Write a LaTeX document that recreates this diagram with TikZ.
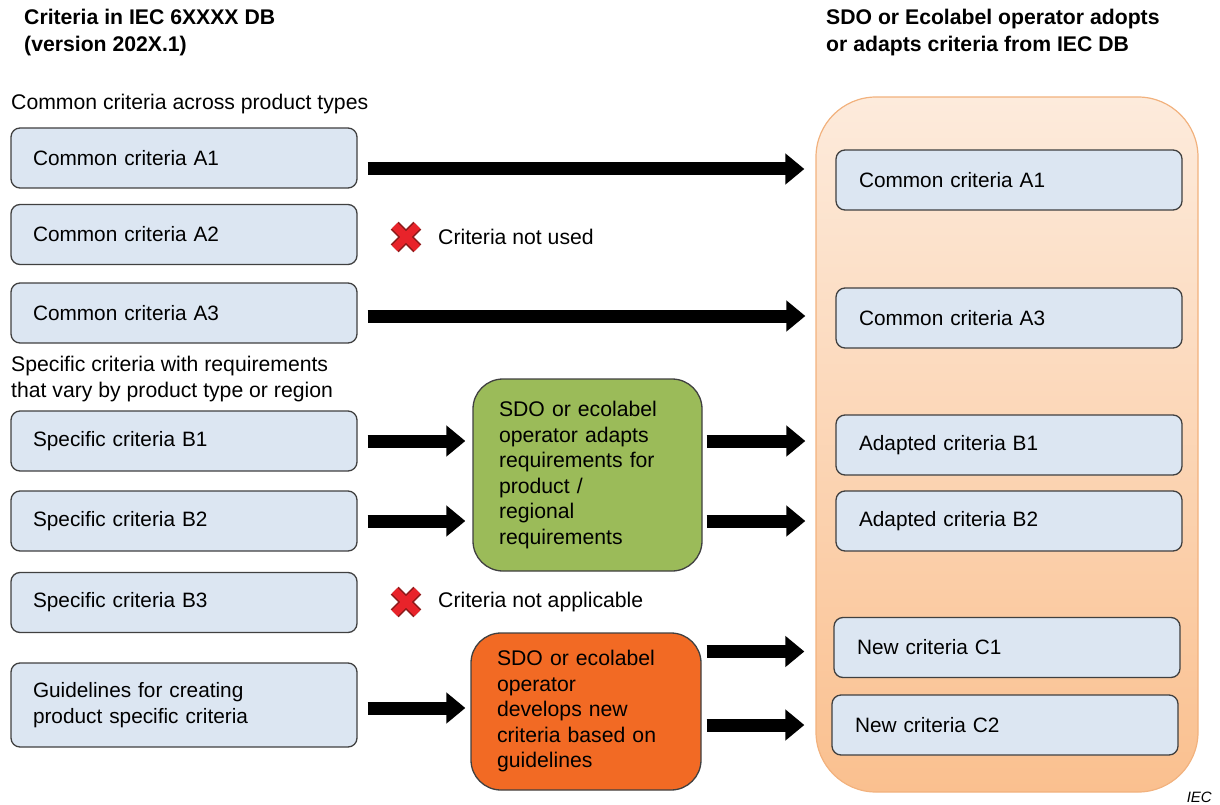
\documentclass[tikz,border=0pt]{standalone}
\usepackage{fontspec}
\setmainfont{Liberation Sans}
\usepackage{xcolor}
\usetikzlibrary{arrows.meta,shapes.misc,calc}

\definecolor{boxblue}{HTML}{DCE6F2}
\definecolor{boxline}{HTML}{404040}
\definecolor{adaptgreen}{HTML}{9BBB59}
\definecolor{neworange}{HTML}{F26A24}
\definecolor{peachtop}{HTML}{FDEBDC}
\definecolor{peachbot}{HTML}{FAC08F}
\definecolor{peachline}{HTML}{F2B27E}
\definecolor{xred}{HTML}{E8232A}
\definecolor{xdark}{HTML}{8E1B1B}

\tikzset{
  crit/.style={draw=boxline, line width=1.3pt, fill=boxblue, rounded corners=9pt,
    text width=302pt, inner xsep=22pt, inner ysep=0pt, minimum height=60pt, align=left,
    font=\fontsize{20.8}{25.5}\selectfont},
  actbox/.style={draw=boxline, line width=1.3pt, rounded corners=30pt,
    inner xsep=26pt, inner ysep=0pt, align=left},
  plain/.style={inner sep=0pt, anchor=west, align=left},
  bigarrow/.style={line width=13pt, -{Triangle[length=19pt,width=30pt]}},
  crossmark/.style={cross out, draw=xdark, double=xred, line width=1.6pt,
    double distance=8pt, minimum size=21pt, inner sep=0pt}
}

\begin{document}
\begin{tikzpicture}[x=1pt,y=1pt,yscale=-1,font=\fontsize{21.2}{25.5}\selectfont]
\useasboundingbox (0,0) rectangle (1220,805);

% headings
\node[plain, font=\fontsize{21.2}{27}\selectfont\bfseries] (hleft) at (24,32.5) {Criteria in IEC 6XXXX DB\\(version 202X.1)};
\node[plain, font=\fontsize{21.2}{27}\selectfont\bfseries] (hright) at (826,32.5) {SDO or Ecolabel operator adopts\\or adapts criteria from IEC DB};
\node[plain] (tcommon) at (11,104) {Common criteria across product types};
\node[plain] (tspecific) at (11,379) {Specific criteria with requirements\\that vary by product type or region};

% container on the right
\node[draw=peachline, line width=1.2pt, rounded corners=60pt, top color=peachtop, bottom color=peachbot,
  minimum width=382pt, minimum height=695pt] (adopt) at (1007,444.5) {};

% left column
\node[crit] (la1) at (184,158) {Common criteria A1};
\node[crit] (la2) at (184,234.5) {Common criteria A2};
\node[crit] (la3) at (184,313) {Common criteria A3};
\node[crit] (lb1) at (184,441) {Specific criteria B1};
\node[crit] (lb2) at (184,521) {Specific criteria B2};
\node[crit] (lb3) at (184,602.5) {Specific criteria B3};
\node[crit, minimum height=84pt] (lg) at (184,705) {Guidelines for creating\\product specific criteria};

% right column
\node[crit, text width=300pt, inner xsep=23pt] (ra1) at (1009,180) {Common criteria A1};
\node[crit, text width=300pt, inner xsep=23pt] (ra3) at (1009,318) {Common criteria A3};
\node[crit, text width=300pt, inner xsep=23pt] (rb1) at (1009,445) {Adapted criteria B1};
\node[crit, text width=300pt, inner xsep=23pt] (rb2) at (1009,521) {Adapted criteria B2};
\node[crit, text width=300pt, inner xsep=23pt] (rc1) at (1007,647.5) {New criteria C1};
\node[crit, text width=300pt, inner xsep=23pt] (rc2) at (1005,725) {New criteria C2};

% middle boxes
\node[actbox, fill=adaptgreen, text width=177pt, minimum height=192pt] (adapt) at (587.5,475)
  {SDO or ecolabel\\operator adapts\\requirements for\\product /\\regional\\requirements};
\node[actbox, fill=neworange, text width=178pt, minimum height=157pt] (develop) at (586,711.5)
  {SDO or ecolabel\\operator\\develops new\\criteria based on\\guidelines};

% not used / not applicable
\node[crossmark] (xa2) at (406,237) {};
\node[plain] (ta2) at (438,237) {Criteria not used};
\node[crossmark] (xb3) at (406,602) {};
\node[plain] (tb3) at (438,602) {Criteria not applicable};

% arrows
\coordinate (ya1) at ($(la1.east)!.5!(ra1.west)$);
\coordinate (ya3) at (0,316);
\draw[bigarrow, shorten <=10pt, shorten >=31pt] (la1.east |- ya1) -- (ra1.west |- ya1);
\draw[bigarrow, shorten <=10pt, shorten >=30pt] (la3.east |- ya3) -- (ra3.west |- ya3);
\draw[bigarrow, shorten <=10pt, shorten >=7pt] (lb1.east) -- (lb1.east -| adapt.west);
\draw[bigarrow, shorten <=10pt, shorten >=7pt] (lb2.east) -- (lb2.east -| adapt.west);
\draw[bigarrow, shorten <=4pt, shorten >=30pt] (adapt.east |- lb1.east) -- (rb1.west |- lb1.east);
\draw[bigarrow, shorten <=4pt, shorten >=30pt] (adapt.east |- rb2.west) -- (rb2.west);
\draw[bigarrow, shorten <=10pt, shorten >=5pt] (lg.east) ++(0,3) coordinate (yg) (lg.east |- yg) -- (yg -| develop.west);
\draw[bigarrow, shorten <=5pt, shorten >=29pt] ([yshift=4pt]develop.east |- rc1.west) -- ([yshift=4pt]rc1.west);
\draw[bigarrow, shorten <=5pt, shorten >=27pt] (develop.east |- rc2.west) -- (rc2.west);

% source
\node[plain, anchor=east, font=\fontsize{15}{18}\selectfont\itshape] (src) at (1212,797) {IEC};
\end{tikzpicture}
\end{document}
